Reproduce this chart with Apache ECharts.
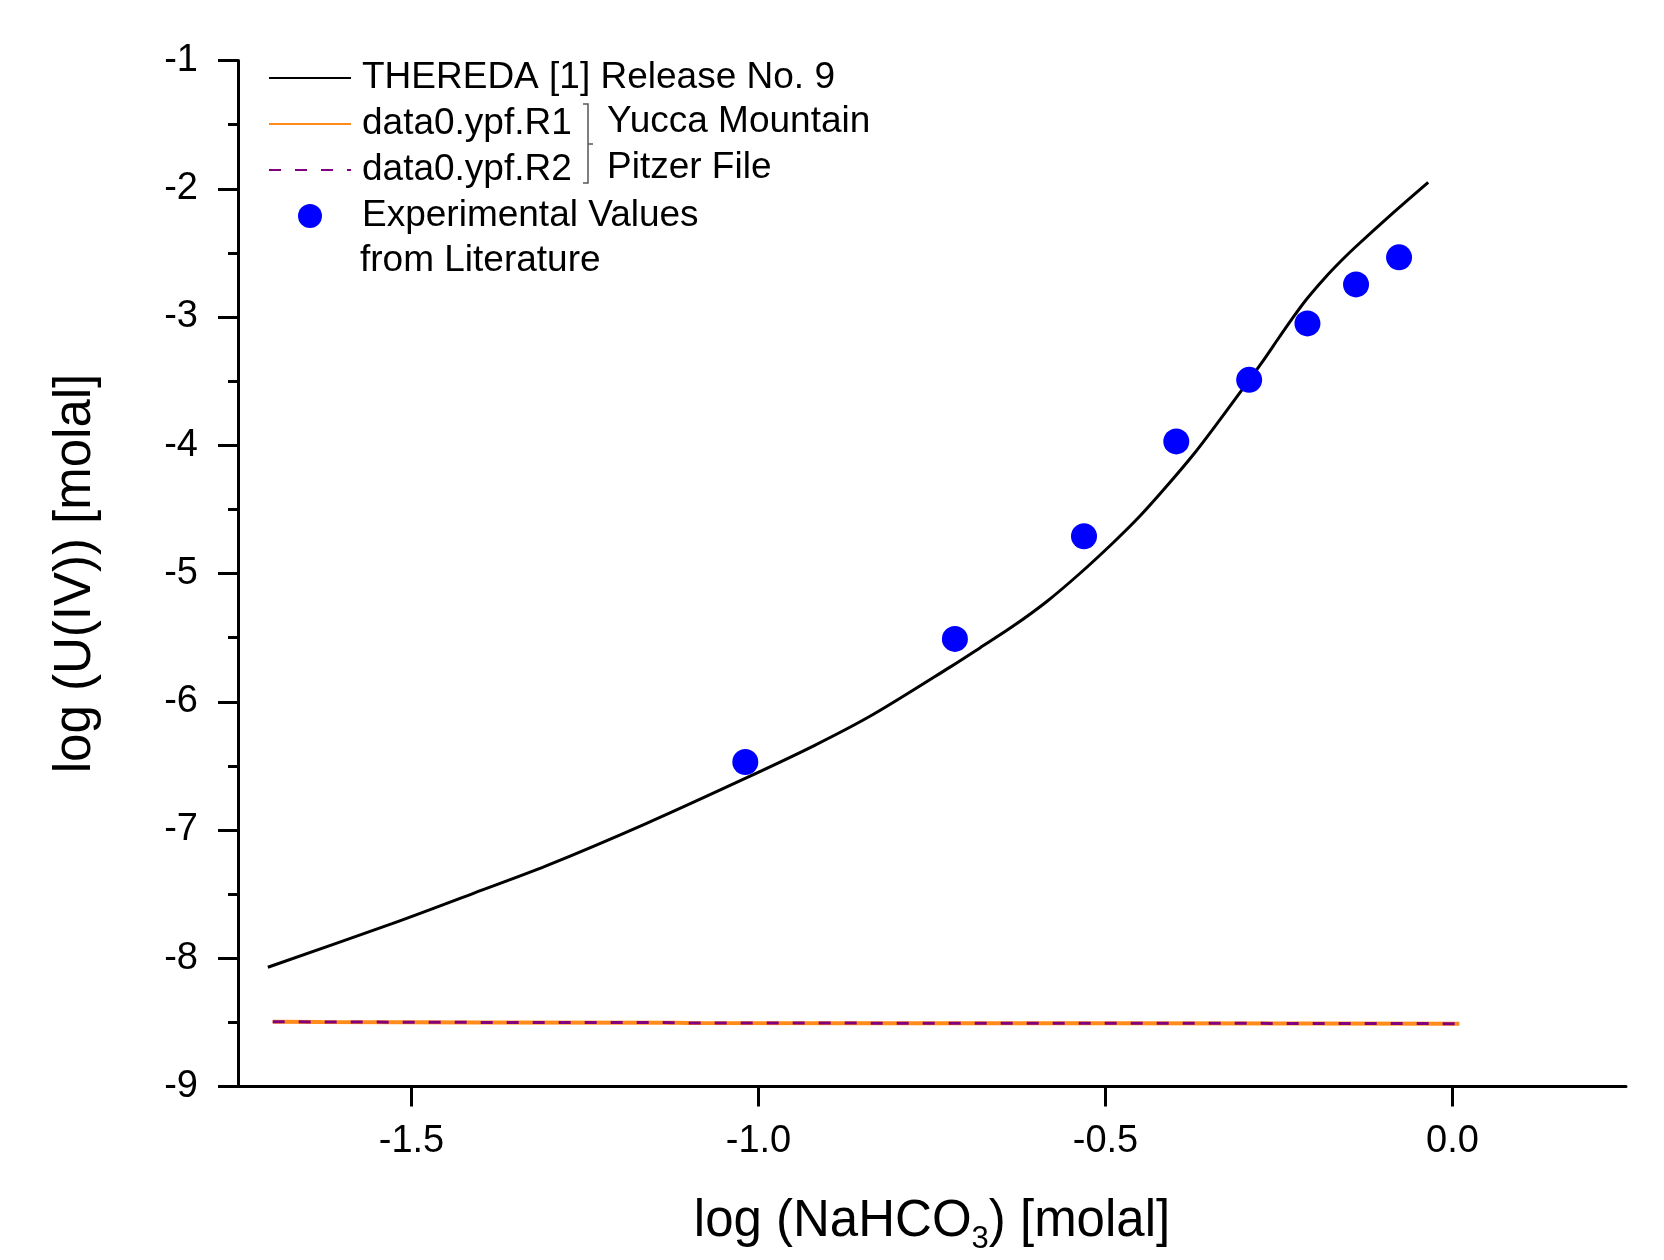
<!DOCTYPE html>
<html>
<head>
<meta charset="utf-8">
<script src="https://cdn.jsdelivr.net/npm/echarts@6/dist/echarts.min.js"></script>
<style>
html,body{margin:0;padding:0;background:#fff;}
#chart{width:1664px;height:1260px;}
</style>
</head>
<body>
<div id="chart"></div>
<script>
// ---- data ----
const seriesNames = ['THEREDA [1] Release No. 9', 'data0.ypf.R1', 'data0.ypf.R2', 'Experimental Values'];
const theredaCurve = [
  [-1.707, -8.07], [-1.528, -7.73], [-1.409, -7.49], [-1.306, -7.28], [-1.162, -6.95],
  [-1.020, -6.60], [-0.919, -6.34], [-0.835, -6.10], [-0.724, -5.73], [-0.681, -5.58],
  [-0.633, -5.41], [-0.585, -5.22], [-0.537, -5.00], [-0.489, -4.76], [-0.450, -4.55],
  [-0.412, -4.32], [-0.373, -4.07], [-0.335, -3.80], [-0.301, -3.55], [-0.274, -3.35],
  [-0.250, -3.16], [-0.232, -3.02], [-0.210, -2.86], [-0.183, -2.69], [-0.160, -2.56],
  [-0.141, -2.46], [-0.086, -2.19], [-0.035, -1.95]
];
const ypfR1 = [
  [-1.70, -8.495], [-1.63, -8.497], [-1.40, -8.500], [-1.12, -8.502], [-1.10, -8.505],
  [-0.80, -8.506], [-0.50, -8.507], [-0.20, -8.508], [0.01, -8.51]
];
const ypfR2 = [
  [-1.70, -8.495], [-1.63, -8.497], [-1.40, -8.500], [-1.12, -8.502], [-1.10, -8.505],
  [-0.80, -8.506], [-0.50, -8.507], [-0.20, -8.508], [0.01, -8.51]
];
const experimental = [
  [-1.019, -6.47], [-0.717, -5.51], [-0.531, -4.71], [-0.398, -3.97],
  [-0.293, -3.49], [-0.209, -3.05], [-0.139, -2.746], [-0.077, -2.535]
];
const xTickValues = [-1.5, -1.0, -0.5, 0.0];
const xRange = [-1.75, 0.25];
const yRange = [-9, -1];
const yInterval = 1;
const xTitle = 'log (NaHCO';
const xTitleSub = '3';
const xTitleEnd = ') [molal]';
const yTitle = 'log (U(IV)) [molal]';
const bracketTexts = ['Yucca Mountain', 'Pitzer File'];
const legendExtra = 'from Literature';

// ---- chart ----
const FONT = 'Liberation Sans';
const chart = echarts.init(document.getElementById('chart'), null, {renderer: 'canvas'});
const axisCol = '#000';
const legendFont = '37px "' + FONT + '"';
const option = {
  backgroundColor: '#fff',
  animation: false,
  textStyle: {fontFamily: FONT},
  grid: {left: 238, right: 38, top: 60.5, bottom: 173.3, containLabel: false},
  xAxis: {
    type: 'value', min: xRange[0], max: xRange[1],
    name: '{a|' + xTitle + '}{s|' + xTitleSub + '}{a|' + xTitleEnd + '}',
    nameLocation: 'middle', nameGap: 106,
    nameTextStyle: {
      rich: {
        a: {fontFamily: FONT, fontSize: 51, color: '#000', lineHeight: 58},
        s: {fontFamily: FONT, fontSize: 31, color: '#000', lineHeight: 58, padding: [36, 0, 0, 0]}
      }
    },
    axisLine: {show: true, onZero: false, lineStyle: {color: axisCol, width: 3}},
    axisTick: {show: true, inside: false, length: 20, lineStyle: {color: axisCol, width: 3}, customValues: xTickValues},
    axisLabel: {show: true, margin: 36, fontFamily: FONT, fontSize: 38, color: '#000',
      customValues: xTickValues, formatter: v => Number(v).toFixed(1)},
    splitLine: {show: false}
  },
  yAxis: {
    type: 'value', min: yRange[0], max: yRange[1], interval: yInterval,
    name: yTitle, nameLocation: 'middle', nameGap: 137, nameRotate: 90,
    nameTextStyle: {fontFamily: FONT, fontSize: 51, color: '#000'},
    axisLine: {show: true, onZero: false, lineStyle: {color: axisCol, width: 3}},
    axisTick: {show: true, inside: false, length: 20, lineStyle: {color: axisCol, width: 3}},
    minorTick: {show: true, splitNumber: 2, length: 10, lineStyle: {color: axisCol, width: 3}},
    axisLabel: {show: true, margin: 40, fontFamily: FONT, fontSize: 38, color: '#000',
      formatter: v => String(v)},
    splitLine: {show: false},
    minorSplitLine: {show: false}
  },
  legend: {
    show: true, orient: 'vertical', left: 268, top: 55, padding: 0,
    itemWidth: 82, itemHeight: 24, itemGap: 0,
    textStyle: {fontFamily: FONT, fontSize: 37, color: '#000', lineHeight: 46, padding: [0, 0, 0, 6]},
    data: [
      {name: seriesNames[0], itemStyle: {opacity: 0}},
      {name: seriesNames[1], itemStyle: {opacity: 0}},
      {name: seriesNames[2], itemStyle: {opacity: 0}},
      {name: seriesNames[3]}
    ],
    selectedMode: false
  },
  series: [
    {
      name: seriesNames[0], type: 'line', data: theredaCurve, showSymbol: false, symbol: 'none',
      smooth: 0.3, lineStyle: {color: '#000', width: 3}, itemStyle: {color: '#000'}, z: 3
    },
    {
      name: seriesNames[1], type: 'line', data: ypfR1, showSymbol: false, symbol: 'none',
      lineStyle: {color: '#FF8C1A', width: 4}, itemStyle: {color: '#FF8C1A'}, z: 2
    },
    {
      name: seriesNames[2], type: 'line', data: ypfR2, showSymbol: false, symbol: 'none',
      lineStyle: {color: '#800080', width: 3, type: [12, 14]}, itemStyle: {color: '#800080'}, z: 3
    },
    {
      name: seriesNames[3], type: 'scatter', data: experimental, symbol: 'circle', symbolSize: 26,
      itemStyle: {color: '#0000FF', opacity: 1}, z: 4
    }
  ],
  graphic: [
    {type: 'polyline', shape: {points: [[583, 104], [588, 104], [588, 183], [583, 183]]},
      style: {stroke: '#555', lineWidth: 1.5, fill: null}},
    {type: 'line', shape: {x1: 588, y1: 144, x2: 593, y2: 144}, style: {stroke: '#555', lineWidth: 1.5}},
    {type: 'text', left: 607, top: 124 - 21, style: {text: bracketTexts[0], font: legendFont, fill: '#000'}},
    {type: 'text', left: 607, top: 170 - 21, style: {text: bracketTexts[1], font: legendFont, fill: '#000'}},
    {type: 'text', left: 360, top: 263 - 21, style: {text: legendExtra, font: legendFont, fill: '#000'}}
  ]
};
chart.setOption(option);
</script>
</body>
</html>
